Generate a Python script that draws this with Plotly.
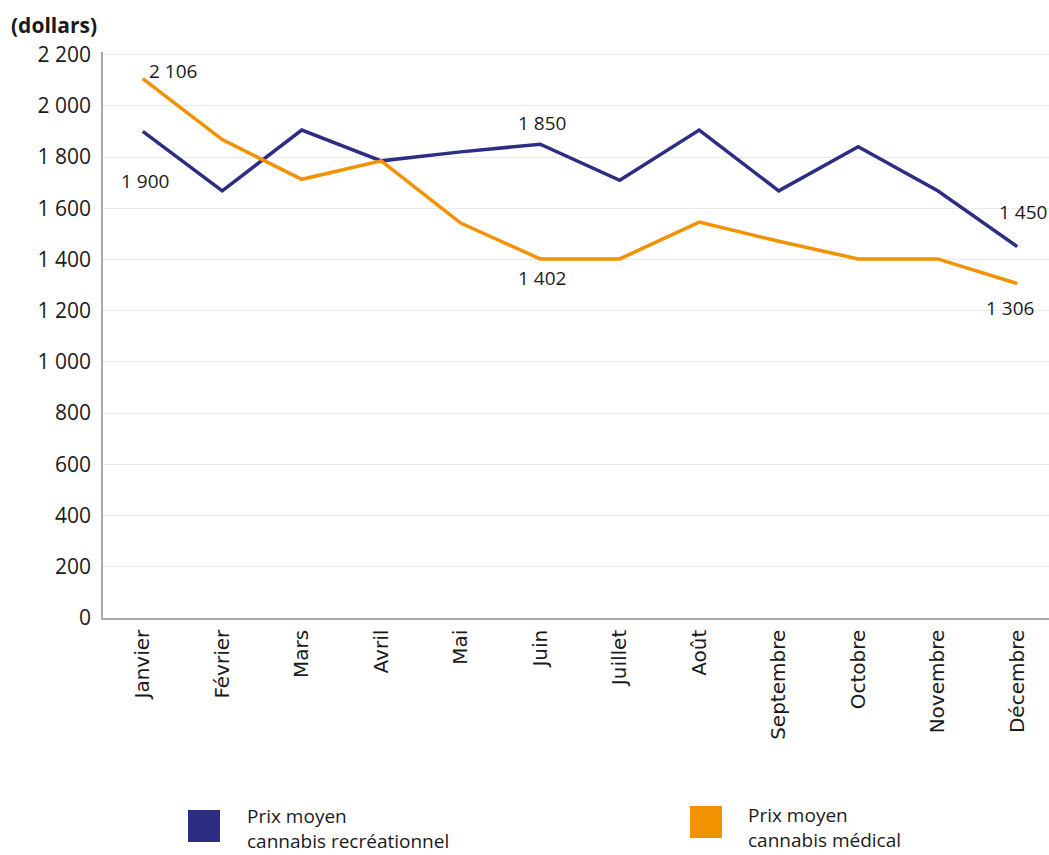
import plotly.graph_objects as go

months = ["Janvier", "Février", "Mars", "Avril", "Mai", "Juin", "Juillet",
          "Août", "Septembre", "Octobre", "Novembre", "Décembre"]
recreational = [1900, 1668, 1905, 1785, 1820, 1850, 1709, 1905, 1668, 1840, 1668, 1450]
medical = [2106, 1868, 1713, 1785, 1542, 1402, 1402, 1546, 1471, 1402, 1402, 1306]
y_ticks = [0, 200, 400, 600, 800, 1000, 1200, 1400, 1600, 1800, 2000, 2200]
y_tick_text = ["0", "200", "400", "600", "800", "1 000", "1 200", "1 400",
               "1 600", "1 800", "2 000", "2 200"]
series_names = ["Prix moyen<br>cannabis recréationnel", "Prix moyen<br>cannabis médical"]

BLUE = "#2E2D84"
ORANGE = "#F39200"
FONT = "Open Sans"

fig = go.Figure()
fig.add_trace(go.Scatter(x=months, y=recreational, mode="lines",
                         line=dict(color=BLUE, width=3.5), name=series_names[0],
                         showlegend=False))
fig.add_trace(go.Scatter(x=months, y=medical, mode="lines",
                         line=dict(color=ORANGE, width=3.5), name=series_names[1],
                         showlegend=False))

def fmt(v):
    return f"{v:,}".replace(",", " ")

ann_font = dict(family=FONT, size=19, color="#1a1a1a")
labels = [
    (0, medical[0], "left", 4, -8),
    (0, recreational[0], "right", 28, 50),
    (5, recreational[5], "center", 2, -21),
    (5, medical[5], "center", 2, 19),
    (11, recreational[11], "center", 6, -35),
    (11, medical[11], "center", -7, 24),
]
for i, v, xa, dx, dy in labels:
    fig.add_annotation(x=months[i], y=v, text=fmt(v), showarrow=False,
                       xanchor=xa, yanchor="middle", xshift=dx, yshift=-dy,
                       font=ann_font)

L, T, B, R = 103, 52, 237, 0
W, H = 1049, 855
PW, PH = W - L - R, H - T - B

fig.update_layout(
    width=W, height=H,
    margin=dict(l=L, r=R, t=T, b=B),
    paper_bgcolor="white", plot_bgcolor="white",
    font=dict(family=FONT, color="#1a1a1a"),
    xaxis=dict(range=[-0.5, 11.4], showgrid=False, showline=True,
               linecolor="#A8A8A8", linewidth=1.5, tickangle=-90,
               tickfont=dict(family="DejaVu Sans", size=20, color="#1a1a1a"),
               ticks="", ticklabelstandoff=2),
    yaxis=dict(range=[0, 2210], tickvals=y_ticks, ticktext=y_tick_text,
               showgrid=True, gridcolor="#EAEAEA", gridwidth=1,
               showline=True, linecolor="#A8A8A8", linewidth=1.5,
               zeroline=False, ticks="", ticklabelstandoff=6,
               tickfont=dict(family=FONT, size=21, color="#1a1a1a")),
)

def px_x(px):
    return (px - L) / PW
def px_y(py):
    return (H - B - py) / PH

fig.add_annotation(text="<b>(dollars)</b>", xref="paper", yref="paper",
                   x=px_x(9), y=px_y(25), xanchor="left", yanchor="middle",
                   showarrow=False, font=dict(family=FONT, size=21, color="#1a1a1a"))

fig.add_shape(type="rect", xref="paper", yref="paper",
              x0=px_x(188), x1=px_x(220), y0=px_y(842), y1=px_y(810),
              fillcolor=BLUE, line=dict(width=0))
fig.add_shape(type="rect", xref="paper", yref="paper",
              x0=px_x(690), x1=px_x(722), y0=px_y(838), y1=px_y(806),
              fillcolor=ORANGE, line=dict(width=0))
fig.add_annotation(text=series_names[0], xref="paper", yref="paper",
                   x=px_x(245), y=px_y(828), xanchor="left", yanchor="middle",
                   align="left", showarrow=False,
                   font=dict(family=FONT, size=19, color="#1a1a1a"))
fig.add_annotation(text=series_names[1], xref="paper", yref="paper",
                   x=px_x(746), y=px_y(827), xanchor="left", yanchor="middle",
                   align="left", showarrow=False,
                   font=dict(family=FONT, size=19, color="#1a1a1a"))

fig.write_html("out.html", config={"displayModeBar": False},
               post_script="document.body.style.margin='0';")
